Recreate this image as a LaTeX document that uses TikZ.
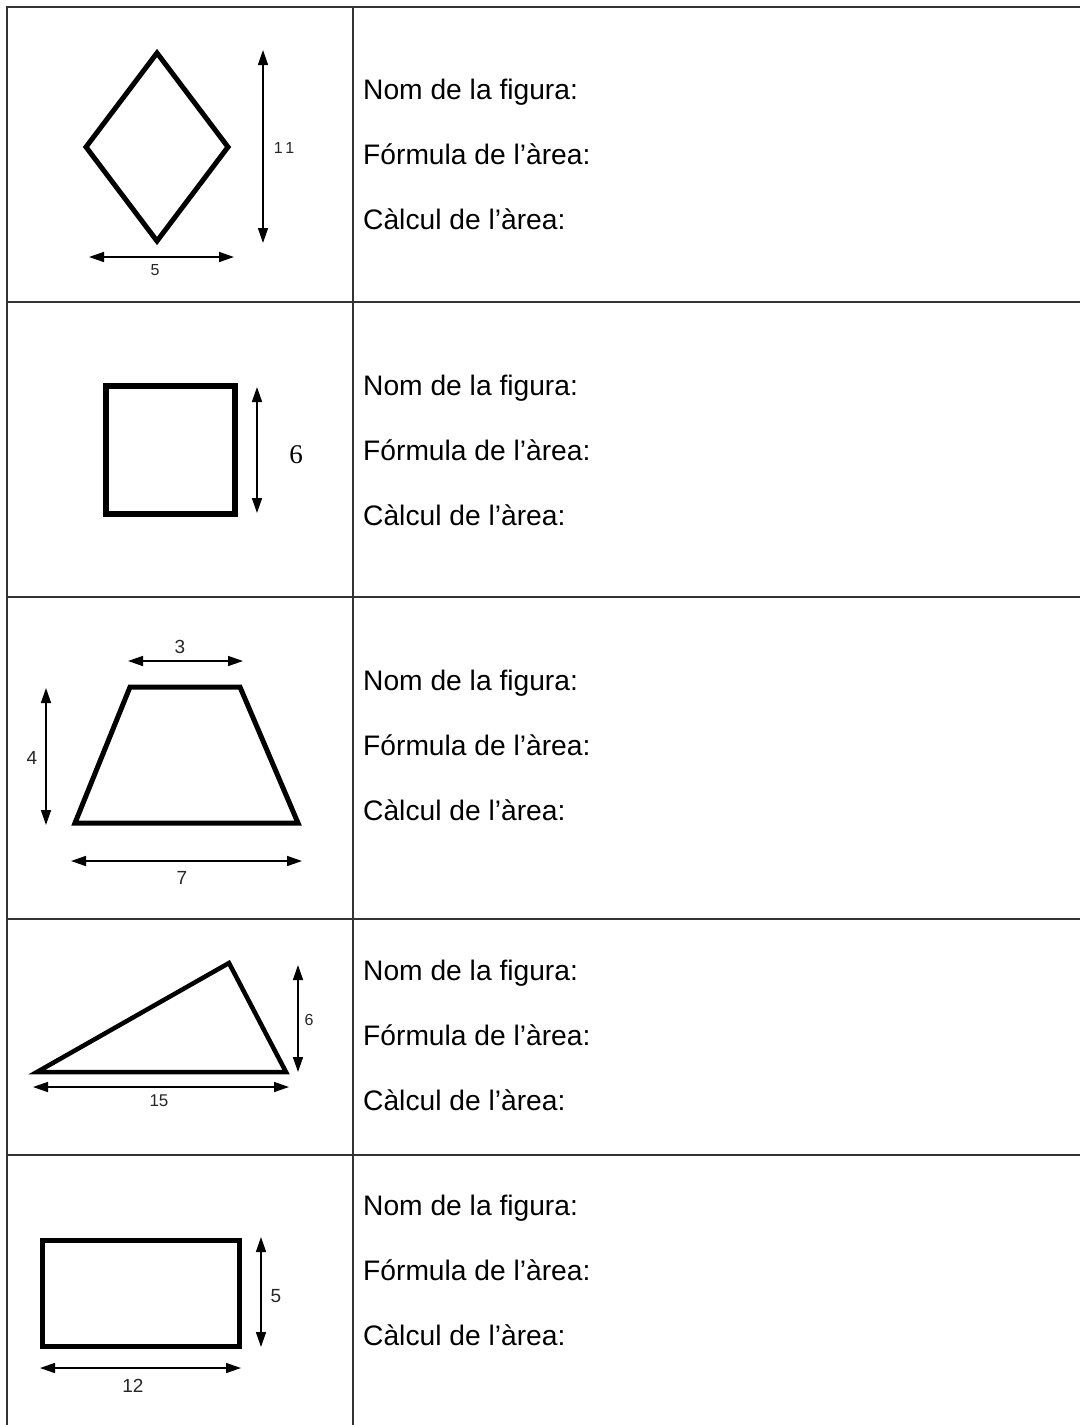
\documentclass[tikz,border=0pt]{standalone}
\usepackage{fontspec}
\setmainfont{Liberation Sans}
\newfontfamily\serifnum{Liberation Serif}
\usetikzlibrary{arrows.meta}
\begin{document}
\begin{tikzpicture}[x=1pt,y=-1pt,
  grid/.style={draw=black!80,line width=1.8pt},
  shapeline/.style={draw=black,line width=5pt,line join=miter},
  dimarrow/.style={draw=black,line width=1.5pt,{Triangle[length=15pt,width=10pt]}-{Triangle[length=15pt,width=10pt]}},
  lbl/.style={inner sep=0pt,font=\fontsize{28.2}{30}\selectfont,anchor=base west},
  dimtxt/.style={inner sep=0pt,text=black!85,font=\fontsize{19}{21}\selectfont},
  smalltxt/.style={inner sep=0pt,text=black!85,font=\fontsize{16}{18}\selectfont}]
\useasboundingbox[fill=white] (0,0) rectangle (1080,1425);
% table grid
\draw[grid] (7,1425) -- (7,7) -- (1080,7);
\draw[grid] (353,7) -- (353,1425);
\foreach \yy in {302,597,919,1155} \draw[grid] (7,\yy) -- (1080,\yy);
% text
\foreach \yy/\n in {99/a,395/b,690/c,980/d,1215/e}{
  \node[lbl] (nom\n) at (363,\yy) {Nom de la figura:};
  \node[lbl] (for\n) at (363,\yy+65) {Fórmula de l’àrea:};
  \node[lbl] (cal\n) at (363,\yy+130) {Càlcul de l’àrea:};
}
% row 1: rhombus
\draw[shapeline] (157,53) -- (228,147) -- (157,241) -- (86,147) -- cycle;
\coordinate (r1t) at (263,50); \coordinate (r1b) at (263,243);
\draw[dimarrow] (r1t) -- (r1b);
\node[smalltxt] (r1v) at (284,148) {1\,1};
\coordinate (r1l) at (89,257); \coordinate (r1r) at (234,257);
\draw[dimarrow] (r1l) -- (r1r);
\node[smalltxt] (r1h) at (155,270) {5};
% row 2: square
\draw[shapeline,line width=6pt] (106,386) rectangle (235,514);
\coordinate (r2t) at (257,387); \coordinate (r2b) at (257,513);
\draw[dimarrow] (r2t) -- (r2b);
\node[inner sep=0pt,font=\serifnum\fontsize{27}{30}\selectfont] (r2v) at (296,455) {6};
% row 3: trapezoid
\draw[shapeline] (130,687) -- (240,687) -- (298,823) -- (75,823) -- cycle;
\coordinate (r3a) at (128,661); \coordinate (r3b) at (243,661);
\draw[dimarrow] (r3a) -- (r3b);
\node[dimtxt] (r3top) at (180,647) {3};
\coordinate (r3c) at (46,688); \coordinate (r3d) at (46,825);
\draw[dimarrow] (r3c) -- (r3d);
\node[dimtxt] (r3left) at (32,758) {4};
\coordinate (r3e) at (71,861); \coordinate (r3f) at (302,861);
\draw[dimarrow] (r3e) -- (r3f);
\node[dimtxt] (r3bot) at (182,878) {7};
% row 4: triangle
\draw[shapeline,line width=4.5pt] (37,1072) -- (229,963) -- (286,1072) -- cycle;
\coordinate (r4a) at (298,965); \coordinate (r4b) at (298,1072);
\draw[dimarrow] (r4a) -- (r4b);
\node[smalltxt] (r4v) at (309,1020) {6};
\coordinate (r4c) at (33,1087); \coordinate (r4d) at (289,1087);
\draw[dimarrow] (r4c) -- (r4d);
\node[smalltxt,font=\fontsize{17}{19}\selectfont] (r4h) at (159,1101) {15};
% row 5: rectangle
\draw[shapeline] (42,1240) rectangle (239,1346);
\coordinate (r5a) at (261,1237); \coordinate (r5b) at (261,1347);
\draw[dimarrow] (r5a) -- (r5b);
\node[dimtxt] (r5v) at (276,1296) {5};
\coordinate (r5c) at (40,1368); \coordinate (r5d) at (241,1368);
\draw[dimarrow] (r5c) -- (r5d);
\node[dimtxt] (r5h) at (133,1386) {12};
\end{tikzpicture}
\end{document}
